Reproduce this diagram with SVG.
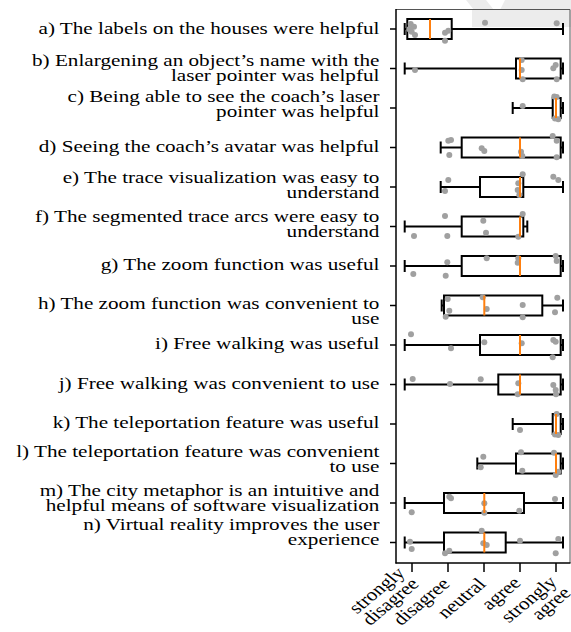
<svg xmlns="http://www.w3.org/2000/svg" width="571" height="632" viewBox="0 0 571 632">
  <style>
    .lbl { font-family: "Liberation Serif", "Times New Roman", serif; font-size: 17.5px; fill: #000; }
    .box { fill: none; stroke: #000; stroke-width: 2; }
    .wh { stroke: #000; stroke-width: 2; fill: none; }
    .med { stroke: #ff7f0e; stroke-width: 2; }
    .dot { fill: #a0a0a0; }
    .spine { stroke: #000; stroke-width: 1.5; }
    .frame { stroke: #555; stroke-width: 1; }
    .tick { stroke: #000; stroke-width: 1.5; }
  </style>
  <rect width="571" height="632" fill="#fff"/>

  <!-- faint mark in the upper right -->
  <g fill="#ececec">
    <polygon points="466,0 486,0 494,10 474,10"/>
    <polygon points="505,0 571,0 571,10 500,10"/>
    <rect x="472" y="10" width="99" height="17"/>
  </g>

  <!-- axes frame -->
  <g id="axes">
    <line class="frame" x1="396" y1="9.5" x2="570" y2="9.5"/>
    <line class="frame" x1="570" y1="9.5" x2="570" y2="563"/>
    <line class="spine" x1="396" y1="9" x2="396" y2="563.5"/>
    <line class="spine" x1="395.5" y1="563" x2="570.5" y2="563"/>
    <g class="tick">
      <line x1="390" y1="29" x2="396" y2="29"/>
      <line x1="390" y1="68.5" x2="396" y2="68.5"/>
      <line x1="390" y1="108" x2="396" y2="108"/>
      <line x1="390" y1="147.5" x2="396" y2="147.5"/>
      <line x1="390" y1="187" x2="396" y2="187"/>
      <line x1="390" y1="226.5" x2="396" y2="226.5"/>
      <line x1="390" y1="266" x2="396" y2="266"/>
      <line x1="390" y1="305.5" x2="396" y2="305.5"/>
      <line x1="390" y1="345" x2="396" y2="345"/>
      <line x1="390" y1="384.5" x2="396" y2="384.5"/>
      <line x1="390" y1="424" x2="396" y2="424"/>
      <line x1="390" y1="463.5" x2="396" y2="463.5"/>
      <line x1="390" y1="503" x2="396" y2="503"/>
      <line x1="390" y1="542.5" x2="396" y2="542.5"/>
      <line x1="412" y1="563" x2="412" y2="572"/>
      <line x1="448" y1="563" x2="448" y2="572"/>
      <line x1="484" y1="563" x2="484" y2="572"/>
      <line x1="520" y1="563" x2="520" y2="572"/>
      <line x1="556" y1="563" x2="556" y2="572"/>
    </g>
  </g>

  <!-- item labels, set in a slightly widened serif -->
  <g id="labels" class="lbl" text-anchor="end" transform="scale(1.21,1)">
    <text x="313.6" y="34.5">a) The labels on the houses were helpful</text>
    <text x="313.6" y="66.5">b) Enlargening an object’s name with the<tspan x="313.6" dy="15">laser pointer was helpful</tspan></text>
    <text x="313.6" y="102.5">c) Being able to see the coach’s laser<tspan x="313.6" dy="15">pointer was helpful</tspan></text>
    <text x="313.6" y="152">d) Seeing the coach’s avatar was helpful</text>
    <text x="313.6" y="183.5">e) The trace visualization was easy to<tspan x="313.6" dy="15">understand</tspan></text>
    <text x="313.6" y="222.5">f) The segmented trace arcs were easy to<tspan x="313.6" dy="15">understand</tspan></text>
    <text x="313.6" y="270.5">g) The zoom function was useful</text>
    <text x="313.6" y="309">h) The zoom function was convenient to<tspan x="313.6" dy="15">use</tspan></text>
    <text x="313.6" y="349.5">i) Free walking was useful</text>
    <text x="313.6" y="389.5">j) Free walking was convenient to use</text>
    <text x="313.6" y="428.5">k) The teleportation feature was useful</text>
    <text x="313.6" y="457.5">l) The teleportation feature was convenient<tspan x="313.6" dy="15">to use</tspan></text>
    <text x="313.6" y="496.5">m) The city metaphor is an intuitive and<tspan x="313.6" dy="15">helpful means of software visualization</tspan></text>
    <text x="313.6" y="530.5">n) Virtual reality improves the user<tspan x="313.6" dy="15">experience</tspan></text>
  </g>

  <!-- rotated scale labels -->
  <g id="scale-labels" class="lbl" text-anchor="end" transform="scale(1.21,1)">
    <text transform="translate(335.5,574) rotate(-45)">strongly</text>
    <text transform="translate(347.1,585) rotate(-45)">disagree</text>
    <text transform="translate(372.7,585) rotate(-45)">disagree</text>
    <text transform="translate(402.5,585) rotate(-45)">neutral</text>
    <text transform="translate(431.4,584) rotate(-45)">agree</text>
    <text transform="translate(461.2,583) rotate(-45)">strongly</text>
    <text transform="translate(472.7,594) rotate(-45)">agree</text>
  </g>

  <!-- box plots, one group per item -->
  <g id="item-a">
    <line class="wh" x1="404.7" y1="29" x2="407.3" y2="29"/><line class="wh" x1="451.7" y1="29" x2="563" y2="29"/>
    <line class="wh" x1="404.7" y1="23" x2="404.7" y2="35"/><line class="wh" x1="563" y1="23" x2="563" y2="35"/>
    <rect class="box" x="407.3" y="19" width="44.4" height="20"/>
    <g class="dot"><circle cx="410.7" cy="24" r="3"/><circle cx="414" cy="26.7" r="3"/><circle cx="411.7" cy="31.7" r="3"/><circle cx="415" cy="35" r="3"/><circle cx="409.3" cy="29.3" r="3"/><circle cx="445" cy="32.7" r="3"/><circle cx="448.3" cy="30.7" r="3"/><circle cx="445" cy="40.7" r="3"/><circle cx="485" cy="22.7" r="3"/><circle cx="556.7" cy="23.3" r="3"/></g>
    <line class="med" x1="430" y1="19" x2="430" y2="39"/>
  </g>
  <g id="item-b">
    <line class="wh" x1="404.7" y1="68.5" x2="516" y2="68.5"/><line class="wh" x1="560.7" y1="68.5" x2="563" y2="68.5"/>
    <line class="wh" x1="404.7" y1="62.5" x2="404.7" y2="74.5"/><line class="wh" x1="563" y1="62.5" x2="563" y2="74.5"/>
    <rect class="box" x="516" y="58.5" width="44.7" height="20"/>
    <g class="dot"><circle cx="415" cy="70" r="3"/><circle cx="521.7" cy="60" r="3"/><circle cx="521.7" cy="70" r="3"/><circle cx="522.7" cy="79.3" r="3"/><circle cx="553.3" cy="68.3" r="3"/><circle cx="555.7" cy="65" r="3"/><circle cx="556.7" cy="79.3" r="3"/></g>
    <line class="med" x1="520" y1="58.5" x2="520" y2="78.5"/>
  </g>
  <g id="item-c">
    <line class="wh" x1="512.7" y1="108" x2="552.7" y2="108"/><line class="wh" x1="560.7" y1="108" x2="563" y2="108"/>
    <line class="wh" x1="512.7" y1="102" x2="512.7" y2="114"/><line class="wh" x1="563" y1="102" x2="563" y2="114"/>
    <rect class="box" x="552.7" y="98" width="8" height="20"/>
    <g class="dot"><circle cx="522.7" cy="106" r="3"/><circle cx="554.3" cy="96.5" r="3"/><circle cx="556.7" cy="97" r="3"/><circle cx="558.3" cy="119.3" r="3"/><circle cx="555" cy="118.5" r="3"/></g>
    <line class="med" x1="556" y1="98" x2="556" y2="118"/>
  </g>
  <g id="item-d">
    <line class="wh" x1="440.7" y1="147.5" x2="461.7" y2="147.5"/><line class="wh" x1="560.7" y1="147.5" x2="563" y2="147.5"/>
    <line class="wh" x1="440.7" y1="141.5" x2="440.7" y2="153.5"/><line class="wh" x1="563" y1="141.5" x2="563" y2="153.5"/>
    <rect class="box" x="461.7" y="137.5" width="99" height="20"/>
    <g class="dot"><circle cx="448.3" cy="140.7" r="3"/><circle cx="451" cy="140" r="3"/><circle cx="449.3" cy="155" r="3"/><circle cx="481.7" cy="148.3" r="3"/><circle cx="484.3" cy="151" r="3"/><circle cx="521" cy="151.7" r="3"/><circle cx="522.3" cy="156" r="3"/><circle cx="552.7" cy="136" r="3"/><circle cx="556.7" cy="140.7" r="3"/><circle cx="556.7" cy="157.3" r="3"/></g>
    <line class="med" x1="520" y1="137.5" x2="520" y2="157.5"/>
  </g>
  <g id="item-e">
    <line class="wh" x1="440.7" y1="187" x2="480" y2="187"/><line class="wh" x1="523.3" y1="187" x2="563" y2="187"/>
    <line class="wh" x1="440.7" y1="181" x2="440.7" y2="193"/><line class="wh" x1="563" y1="181" x2="563" y2="193"/>
    <rect class="box" x="480" y="177" width="43.3" height="20"/>
    <g class="dot"><circle cx="448.3" cy="180" r="3"/><circle cx="445" cy="191" r="3"/><circle cx="522.7" cy="174.3" r="3"/><circle cx="518.3" cy="183.3" r="3"/><circle cx="517.7" cy="190" r="3"/><circle cx="519.3" cy="195" r="3"/><circle cx="553.3" cy="176.7" r="3"/><circle cx="558.3" cy="180" r="3"/></g>
    <line class="med" x1="520" y1="177" x2="520" y2="197"/>
  </g>
  <g id="item-f">
    <line class="wh" x1="404.7" y1="226.5" x2="461.7" y2="226.5"/><line class="wh" x1="523.3" y1="226.5" x2="527.3" y2="226.5"/>
    <line class="wh" x1="404.7" y1="220.5" x2="404.7" y2="232.5"/><line class="wh" x1="527.3" y1="220.5" x2="527.3" y2="232.5"/>
    <rect class="box" x="461.7" y="216.5" width="61.6" height="20"/>
    <g class="dot"><circle cx="445" cy="216" r="3"/><circle cx="414" cy="236" r="3"/><circle cx="447.3" cy="236" r="3"/><circle cx="483.3" cy="220.7" r="3"/><circle cx="486" cy="232.7" r="3"/><circle cx="522.7" cy="214" r="3"/><circle cx="518.3" cy="236.7" r="3"/></g>
    <line class="med" x1="520" y1="216.5" x2="520" y2="236.5"/>
  </g>
  <g id="item-g">
    <line class="wh" x1="404.7" y1="266" x2="461.7" y2="266"/><line class="wh" x1="560.7" y1="266" x2="563" y2="266"/>
    <line class="wh" x1="404.7" y1="260" x2="404.7" y2="272"/><line class="wh" x1="563" y1="260" x2="563" y2="272"/>
    <rect class="box" x="461.7" y="256" width="99" height="20"/>
    <g class="dot"><circle cx="447.3" cy="262.3" r="3"/><circle cx="413.3" cy="274" r="3"/><circle cx="445.7" cy="275.7" r="3"/><circle cx="486.7" cy="258.3" r="3"/><circle cx="517.7" cy="262.7" r="3"/><circle cx="518.3" cy="258.3" r="3"/><circle cx="555.7" cy="256" r="3"/><circle cx="556.7" cy="261" r="3"/></g>
    <line class="med" x1="520" y1="256" x2="520" y2="276"/>
  </g>
  <g id="item-h">
    <line class="wh" x1="441.7" y1="305.5" x2="444" y2="305.5"/><line class="wh" x1="542.3" y1="305.5" x2="563" y2="305.5"/>
    <line class="wh" x1="441.7" y1="299.5" x2="441.7" y2="311.5"/><line class="wh" x1="563" y1="299.5" x2="563" y2="311.5"/>
    <rect class="box" x="444" y="295.5" width="98.3" height="20"/>
    <g class="dot"><circle cx="447.7" cy="299" r="3"/><circle cx="449.3" cy="310.7" r="3"/><circle cx="445.7" cy="316.7" r="3"/><circle cx="482.7" cy="297.3" r="3"/><circle cx="486.7" cy="309" r="3"/><circle cx="522.7" cy="305" r="3"/><circle cx="522.7" cy="317.3" r="3"/><circle cx="557.3" cy="297.7" r="3"/><circle cx="555" cy="312.3" r="3"/></g>
    <line class="med" x1="484.3" y1="295.5" x2="484.3" y2="315.5"/>
  </g>
  <g id="item-i">
    <line class="wh" x1="404.7" y1="345" x2="480" y2="345"/><line class="wh" x1="560.7" y1="345" x2="563" y2="345"/>
    <line class="wh" x1="404.7" y1="339" x2="404.7" y2="351"/><line class="wh" x1="563" y1="339" x2="563" y2="351"/>
    <rect class="box" x="480" y="335" width="80.7" height="20"/>
    <g class="dot"><circle cx="411" cy="334.3" r="3"/><circle cx="451" cy="348.3" r="3"/><circle cx="484.3" cy="342.3" r="3"/><circle cx="521.7" cy="343.3" r="3"/><circle cx="553.3" cy="340" r="3"/><circle cx="555.7" cy="341.7" r="3"/><circle cx="552.7" cy="357.3" r="3"/></g>
    <line class="med" x1="520" y1="335" x2="520" y2="355"/>
  </g>
  <g id="item-j">
    <line class="wh" x1="404.7" y1="384.5" x2="498.3" y2="384.5"/><line class="wh" x1="560.7" y1="384.5" x2="563" y2="384.5"/>
    <line class="wh" x1="404.7" y1="378.5" x2="404.7" y2="390.5"/><line class="wh" x1="563" y1="378.5" x2="563" y2="390.5"/>
    <rect class="box" x="498.3" y="374.5" width="62.4" height="20"/>
    <g class="dot"><circle cx="412.7" cy="379" r="3"/><circle cx="450" cy="384" r="3"/><circle cx="480.7" cy="379.3" r="3"/><circle cx="518.3" cy="383.3" r="3"/><circle cx="517.7" cy="394.3" r="3"/><circle cx="553.3" cy="385" r="3"/><circle cx="555.7" cy="390" r="3"/><circle cx="556" cy="394.3" r="3"/></g>
    <line class="med" x1="520" y1="374.5" x2="520" y2="394.5"/>
  </g>
  <g id="item-k">
    <line class="wh" x1="512.7" y1="424" x2="552.7" y2="424"/><line class="wh" x1="560.7" y1="424" x2="563" y2="424"/>
    <line class="wh" x1="512.7" y1="418" x2="512.7" y2="430"/><line class="wh" x1="563" y1="418" x2="563" y2="430"/>
    <rect class="box" x="552.7" y="414" width="8" height="20"/>
    <g class="dot"><circle cx="520" cy="430" r="3"/><circle cx="558.3" cy="435" r="3"/><circle cx="556.7" cy="414" r="3"/><circle cx="555" cy="434.5" r="3"/></g>
    <line class="med" x1="556" y1="414" x2="556" y2="434"/>
  </g>
  <g id="item-l">
    <line class="wh" x1="477.3" y1="463.5" x2="516" y2="463.5"/><line class="wh" x1="560.7" y1="463.5" x2="563" y2="463.5"/>
    <line class="wh" x1="477.3" y1="457.5" x2="477.3" y2="469.5"/><line class="wh" x1="563" y1="457.5" x2="563" y2="469.5"/>
    <rect class="box" x="516" y="453.5" width="44.7" height="20"/>
    <g class="dot"><circle cx="483.3" cy="456.7" r="3"/><circle cx="480.7" cy="467.3" r="3"/><circle cx="521" cy="452.3" r="3"/><circle cx="522.3" cy="470.7" r="3"/><circle cx="554" cy="452.7" r="3"/><circle cx="555.7" cy="475" r="3"/><circle cx="558.3" cy="471.7" r="3"/></g>
    <line class="med" x1="556" y1="453.5" x2="556" y2="473.5"/>
  </g>
  <g id="item-m">
    <line class="wh" x1="404.7" y1="503" x2="444" y2="503"/><line class="wh" x1="524" y1="503" x2="563" y2="503"/>
    <line class="wh" x1="404.7" y1="497" x2="404.7" y2="509"/><line class="wh" x1="563" y1="497" x2="563" y2="509"/>
    <rect class="box" x="444" y="493" width="80" height="20"/>
    <g class="dot"><circle cx="411.7" cy="512.3" r="3"/><circle cx="451" cy="498.3" r="3"/><circle cx="449.3" cy="496.7" r="3"/><circle cx="484.3" cy="503.3" r="3"/><circle cx="484.3" cy="512.7" r="3"/><circle cx="519.3" cy="510.7" r="3"/><circle cx="555" cy="499" r="3"/></g>
    <line class="med" x1="484.3" y1="493" x2="484.3" y2="513"/>
  </g>
  <g id="item-n">
    <line class="wh" x1="404.7" y1="542.5" x2="444" y2="542.5"/><line class="wh" x1="505.7" y1="542.5" x2="563" y2="542.5"/>
    <line class="wh" x1="404.7" y1="536.5" x2="404.7" y2="548.5"/><line class="wh" x1="563" y1="536.5" x2="563" y2="548.5"/>
    <rect class="box" x="444" y="532.5" width="61.7" height="20"/>
    <g class="dot"><circle cx="410" cy="541.7" r="3"/><circle cx="411.7" cy="549" r="3"/><circle cx="445" cy="553.3" r="3"/><circle cx="449.3" cy="550.7" r="3"/><circle cx="481.7" cy="530.7" r="3"/><circle cx="483.3" cy="543.3" r="3"/><circle cx="486.7" cy="545" r="3"/><circle cx="520" cy="540.7" r="3"/><circle cx="558.3" cy="539" r="3"/><circle cx="555.7" cy="553.3" r="3"/></g>
    <line class="med" x1="484.3" y1="532.5" x2="484.3" y2="552.5"/>
  </g>
</svg>
